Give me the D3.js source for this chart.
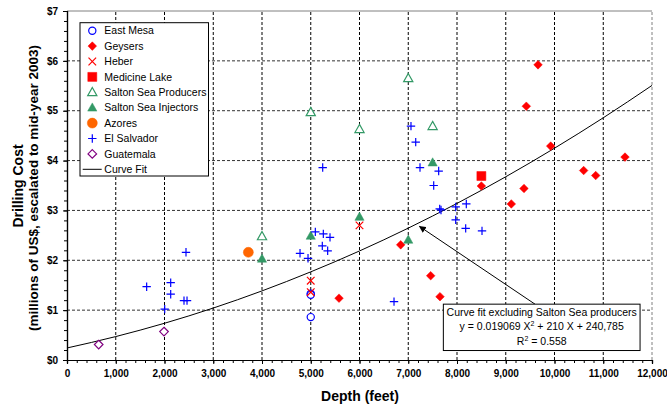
<!DOCTYPE html>
<html><head><meta charset="utf-8">
<script src="https://cdn.jsdelivr.net/npm/d3@7"></script>
<style>
html,body{margin:0;padding:0;background:#fff;}
svg{display:block;font-family:"Liberation Sans",Arial,Helvetica,sans-serif;}
</style></head>
<body><svg id="chart" width="667" height="404"></svg>
<script>
// ---- data (depth in feet, cost in millions of US$) ----
const eastMesaDepth = [5000, 5000, 5000];
const eastMesaCost  = [1.33, 1.31, 0.86];
const geysersDepth = [5580, 6845, 7460, 7651, 8500, 9114, 9374, 9422, 9662, 9922, 10598, 10845, 11446];
const geysersCost  = [1.24, 2.31, 1.69, 1.27, 3.49, 3.13, 3.44, 5.09, 5.92, 4.29, 3.80, 3.70, 4.07];
const heberDepth = [6000, 5000, 5000];
const heberCost  = [2.70, 1.59, 1.36];
const medicineLakeDepth = [8500];
const medicineLakeCost  = [3.69];
const ssProducersDepth = [4000, 5000, 6000, 7000, 7500];
const ssProducersCost  = [2.48, 4.97, 4.63, 5.65, 4.69];
const ssInjectorsDepth = [4000, 5000, 6000, 7000, 7500];
const ssInjectorsCost  = [2.03, 2.49, 2.87, 2.41, 3.96];
const azoresDepth = [3720];
const azoresCost  = [2.16];
const elSalvadorDepth = [1634, 2004, 2127, 2127, 2400, 2462, 2441,
  4780, 4944, 5094, 5258, 5395, 5237, 5347, 5245, 6708,
  7056, 7153, 7241, 7624, 7522, 7645, 7672, 7973, 8191, 7973, 8178, 8513];
const elSalvadorCost  = [1.47, 1.02, 1.55, 1.32, 1.19, 1.19, 2.16,
  2.14, 2.04, 2.57, 2.53, 2.46, 2.29, 2.19, 3.86, 1.17,
  4.69, 4.37, 3.86, 3.79, 3.50, 3.03, 3.01, 3.07, 3.13, 2.81, 2.64, 2.59];
const guatemalaDepth = [650, 1990];
const guatemalaCost  = [0.31, 0.57];
const curveFitDepth = [0, 1000, 2000, 3000, 4000, 5000, 6000, 7000, 8000, 9000, 10000, 11000, 12000];
const curveFitCost  = [0.241, 0.470, 0.737, 1.042, 1.386, 1.768, 2.187, 2.645, 3.141, 3.675, 4.248, 4.858, 5.507];
const xTicks = [0, 1000, 2000, 3000, 4000, 5000, 6000, 7000, 8000, 9000, 10000, 11000, 12000];
const yTicks = [0, 1, 2, 3, 4, 5, 6, 7];
const seriesNames = ["East Mesa", "Geysers", "Heber", "Medicine Lake", "Salton Sea Producers",
  "Salton Sea Injectors", "Azores", "El Salvador", "Guatemala"];
const annotationLines = ["Curve fit excluding Salton Sea producers", "y = 0.019069 X|2| + 210 X + 240,785", "R|2| = 0.558"];

// ---- series styling ----
const series = [
  {name: seriesNames[0], xs: eastMesaDepth, ys: eastMesaCost, shape: "circle", color: "#0000ff", fill: false},
  {name: seriesNames[1], xs: geysersDepth, ys: geysersCost, shape: "diamond", color: "#ff0000", fill: true},
  {name: seriesNames[2], xs: heberDepth, ys: heberCost, shape: "x", color: "#ff0000", fill: false},
  {name: seriesNames[3], xs: medicineLakeDepth, ys: medicineLakeCost, shape: "square", color: "#ff0000", fill: true},
  {name: seriesNames[4], xs: ssProducersDepth, ys: ssProducersCost, shape: "triangle", color: "#339966", fill: false},
  {name: seriesNames[5], xs: ssInjectorsDepth, ys: ssInjectorsCost, shape: "triangle", color: "#339966", fill: true},
  {name: seriesNames[6], xs: azoresDepth, ys: azoresCost, shape: "bigcircle", color: "#ff6600", fill: true},
  {name: seriesNames[7], xs: elSalvadorDepth, ys: elSalvadorCost, shape: "plus", color: "#0000ff", fill: false},
  {name: seriesNames[8], xs: guatemalaDepth, ys: guatemalaCost, shape: "diamond", color: "#800080", fill: false}
];

const svg = d3.select("#chart");
const x = d3.scaleLinear().domain([0, 12000]).range([67, 652]);
const y = d3.scaleLinear().domain([0, 7]).range([360, 11]);

function shapePath(s) {
  switch (s) {
    case "circle": {const p=d3.path();p.arc(0,0,3.6,0,2*Math.PI);return p.toString();}
    case "bigcircle": {const p=d3.path();p.arc(0,0,5,0,2*Math.PI);return p.toString();}
    case "diamond": return "M0,-4.3L4.3,0L0,4.3L-4.3,0Z";
    case "square": return "M-4.5,-4.5H4.5V4.5H-4.5Z";
    case "triangle": return "M0,-4.8L4.6,3.4L-4.6,3.4Z";
    case "x": return "M-3.8,-3.8L3.8,3.8M-3.8,3.8L3.8,-3.8";
    case "plus": return "M-4.2,0H4.2M0,-4.2V4.2";
  }
}
function styleMark(sel, s) {
  const line = s.shape === "x" || s.shape === "plus";
  sel.attr("d", shapePath(s.shape))
    .attr("fill", s.fill ? s.color : (line ? "none" : "#fff"))
    .attr("stroke", s.color)
    .attr("stroke-width", s.fill ? 0.5 : 1.2);
}

// ---- grid ----
const grid = svg.append("g");
grid.selectAll("line.v").data(xTicks.slice(1)).join("line")
  .attr("x1", d => x(d)).attr("x2", d => x(d)).attr("y1", y(0)).attr("y2", y(7))
  .attr("stroke", d => d === 12000 ? "#808080" : "#000").attr("stroke-width", 1).attr("stroke-dasharray", "3,2");
grid.selectAll("line.h").data(yTicks.slice(1)).join("line")
  .attr("x1", x(0)).attr("x2", x(12000)).attr("y1", d => y(d)).attr("y2", d => y(d))
  .attr("stroke", d => d === 7 ? "#808080" : "#333").attr("stroke-width", 1)
  .attr("stroke-dasharray", d => d === 7 ? null : "3,2");

// ---- axes ----
const xMinor = svg.append("g").attr("transform", `translate(0,${y(0)})`)
  .call(d3.axisBottom(x).tickValues(d3.range(0, 12001, 200)).tickSize(3).tickFormat(""));
const yMinor = svg.append("g").attr("transform", `translate(${x(0)},0)`)
  .call(d3.axisLeft(y).tickValues(d3.range(0, 7.001, 0.2)).tickSize(3).tickFormat(""));
const xAxis = svg.append("g").attr("transform", `translate(0,${y(0)})`)
  .call(d3.axisBottom(x).tickValues(xTicks).tickSize(4).tickPadding(6).tickFormat(d3.format(",")));
const yAxis = svg.append("g").attr("transform", `translate(${x(0)},0)`)
  .call(d3.axisLeft(y).tickValues(yTicks).tickSize(4).tickPadding(5).tickFormat(d => "$" + d));
[xMinor, yMinor, xAxis, yAxis].forEach(g => {
  g.select(".domain").attr("stroke", "#000").attr("stroke-width", 1.2);
  g.selectAll(".tick line").attr("stroke", "#000");
  g.selectAll("text").attr("font-family", "Liberation Sans, Arial, sans-serif")
    .attr("font-size", 10).attr("font-weight", "bold").attr("fill", "#000");
});

// ---- axis titles ----
svg.append("text").attr("x", 360).attr("y", 401).attr("text-anchor", "middle")
  .attr("font-size", 14).attr("font-weight", "bold").text("Depth (feet)");
svg.append("text").attr("transform", `translate(23,186) rotate(-90)`)
  .attr("text-anchor", "middle").attr("font-size", 14).attr("font-weight", "bold").text("Drilling Cost");
svg.append("text").attr("transform", `translate(37.5,188) rotate(-90)`)
  .attr("text-anchor", "middle").attr("font-size", 13.5).attr("font-weight", "bold")
  .text("(millions of US$, escalated to mid-year 2003)");

// ---- curve fit ----
svg.append("path")
  .datum(curveFitDepth.map((d, i) => [d, curveFitCost[i]]))
  .attr("fill", "none").attr("stroke", "#000").attr("stroke-width", 1)
  .attr("d", d3.line().x(d => x(d[0])).y(d => y(d[1])).curve(d3.curveMonotoneX));

// ---- points ----
series.forEach(s => {
  svg.append("g").selectAll("path")
    .data(s.xs.map((d, i) => [d, s.ys[i]])).join("path")
    .attr("transform", d => `translate(${x(d[0])},${y(d[1])})`)
    .call(sel => styleMark(sel, s));
});

// ---- annotation arrow & box ----
const arrowFrom = [9600, 1.12], arrowTo = [7230, 2.68];
const defs = svg.append("defs");
defs.append("marker").attr("id", "ah").attr("viewBox", "0 0 10 10").attr("refX", 9).attr("refY", 5)
  .attr("markerWidth", 7).attr("markerHeight", 7).attr("orient", "auto")
  .append("path").attr("d", "M0,0L10,5L0,10Z").attr("fill", "#000");
svg.append("line").attr("x1", x(arrowFrom[0])).attr("y1", y(arrowFrom[1]))
  .attr("x2", x(arrowTo[0])).attr("y2", y(arrowTo[1]))
  .attr("stroke", "#000").attr("stroke-width", 1).attr("marker-end", "url(#ah)");
const boxX0 = 7720, boxX1 = 11755, boxY0 = 1.12, boxY1 = 0.19;
svg.append("rect").attr("x", x(boxX0)).attr("y", y(boxY0))
  .attr("width", x(boxX1) - x(boxX0)).attr("height", y(boxY1) - y(boxY0))
  .attr("fill", "#fff").attr("stroke", "#000").attr("stroke-width", 1);
const cx = (x(boxX0) + x(boxX1)) / 2;
annotationLines.forEach((ln, i) => {
  const t = svg.append("text").attr("x", cx).attr("y", y(boxY0) + 11.5 + i * 14.6)
    .attr("text-anchor", "middle").attr("font-size", 10.5).attr("fill", "#000");
  ln.split("|").forEach((part, j) => {
    if (j % 2 === 1) t.append("tspan").attr("font-size", 7).attr("dy", -4).text(part);
    else t.append("tspan").attr("dy", j === 0 ? 0 : 4).text(part);
  });
});

// ---- legend ----
const lg = svg.append("g");
lg.append("rect").attr("x", 80).attr("y", 22.7).attr("width", 128.5).attr("height", 153.3)
  .attr("fill", "#fff").attr("stroke", "#000").attr("stroke-width", 1);
series.forEach((s, i) => {
  const yy = 30.7 + i * 15.4;
  lg.append("path").attr("transform", `translate(92.3,${yy})`).call(sel => styleMark(sel, s));
  lg.append("text").attr("x", 104.3).attr("y", yy).attr("dy", "0.35em")
    .attr("font-size", 10.5).text(s.name);
});
const ly = 30.7 + 9 * 15.4;
lg.append("line").attr("x1", 82.7).attr("x2", 101.7).attr("y1", ly).attr("y2", ly)
  .attr("stroke", "#000").attr("stroke-width", 1);
lg.append("text").attr("x", 104.3).attr("y", ly).attr("dy", "0.35em").attr("font-size", 10.5).text("Curve Fit");
</script></body></html>
